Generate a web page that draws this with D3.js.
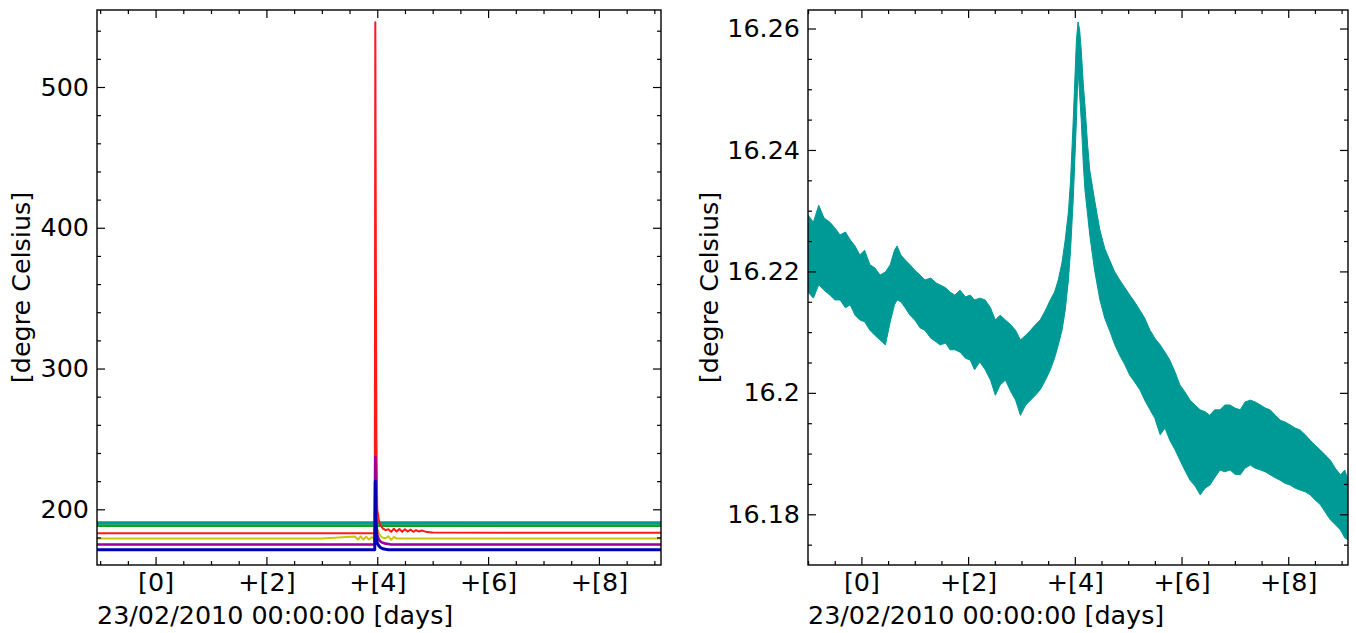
<!DOCTYPE html>
<html><head><meta charset="utf-8">
<script src="https://cdn.jsdelivr.net/npm/d3@7"></script>
<style>
html,body{margin:0;padding:0;background:#fff;}
svg{display:block;font-family:"DejaVu Sans",sans-serif;}
</style></head><body>
<svg id="chart" width="1356" height="633"></svg>
<script>
// ---------- tick labels / titles ----------
const xMajorTicks = [0, 2, 4, 6, 8];
const xTickLabels = ["[0]", "+[2]", "+[4]", "+[6]", "+[8]"];
const xMinorTicks = [-1, -0.5, 0.5, 1, 1.5, 2.5, 3, 3.5, 4.5, 5, 5.5, 6.5, 7, 7.5, 8.5, 9];
const xTitle = "23/02/2010 00:00:00 [days]";
const yTitle = "[degre Celsius]";

const leftYTicks = [200, 300, 400, 500];
const leftYTickLabels = ["200", "300", "400", "500"];
const leftYMinor = [180, 220, 240, 260, 280, 320, 340, 360, 380, 420, 440, 460, 480, 520, 540];
const leftXDomain = [-1.057, 9.12];
const leftYDomain = [160.43, 554.7];

const rightYTicks = [16.18, 16.20, 16.22, 16.24, 16.26];
const rightYTickLabels = ["16.18", "16.2", "16.22", "16.24", "16.26"];
const rightYMinor = [16.175, 16.185, 16.19, 16.195, 16.205, 16.21, 16.215, 16.225, 16.23, 16.235, 16.245, 16.25, 16.255];
const rightXDomain = [-1.001, 9.12];
const rightYDomain = [16.17165, 16.26305];

// ---------- left panel series (days, degree Celsius) ----------
const leftDays = [-1.06, 1, 3, 3.6, 3.65, 3.7, 3.75, 3.8, 3.85, 3.9,
  3.955, 3.965, 3.975, 3.985, 4.0, 4.03, 4.06, 4.1, 4.15, 4.2,
  4.25, 4.3, 4.35, 4.4, 4.45, 4.5, 4.55, 4.6, 4.65, 4.7,
  4.75, 4.8, 4.9, 5.0, 7.0, 9.12];
const seriesGreen = [188.4, 188.4, 188.4, 188.4, 188.4, 188.4, 188.4, 188.4, 188.4, 188.4,
  188.4, 188.4, 188.4, 188.4, 188.4, 188.4, 188.4, 188.4, 188.4, 188.4,
  188.4, 188.4, 188.4, 188.4, 188.4, 188.4, 188.4, 188.4, 188.4, 188.4,
  188.4, 188.4, 188.4, 188.4, 188.4, 188.4];
const seriesTeal = [190.4, 190.4, 190.4, 190.4, 190.4, 190.4, 190.4, 190.4, 190.4, 190.4,
  190.4, 190.4, 190.4, 190.4, 190.4, 190.4, 190.4, 190.4, 190.4, 190.4,
  190.4, 190.4, 190.4, 190.4, 190.4, 190.4, 190.4, 190.4, 190.4, 190.4,
  190.4, 190.4, 190.4, 190.4, 190.4, 190.4];
const seriesYellow = [179.2, 179.2, 179.2, 180.6, 178.4, 180.8, 178.5, 180.5, 178.6, 180.2,
  179.2, 215, 200, 192, 186, 183, 181, 179.8, 179.4, 180.8,
  178.3, 180.4, 179.2, 179.2, 179.2, 179.2, 179.2, 179.2, 179.2, 179.2,
  179.2, 179.2, 179.2, 179.2, 179.2, 179.2];
const seriesRed = [183.0, 183.0, 183.0, 183.0, 183.0, 183.0, 183.0, 183.0, 183.0, 183.0,
  183.0, 546, 380, 250, 200, 192, 188.5, 186.5, 185.2, 185.8,
  184.0, 186.2, 184.2, 186.0, 184.0, 185.8, 184.2, 185.6, 184.0, 185.2,
  184.2, 184.9, 183.8, 183.6, 183.3, 183.3];
const seriesPurple = [175.0, 175.0, 175.0, 175.0, 175.0, 175.0, 175.0, 175.0, 175.0, 175.0,
  175.0, 237, 205, 190, 182, 178.5, 177, 176.2, 175.6, 175.3,
  175.0, 175.0, 175.0, 175.0, 175.0, 175.0, 175.0, 175.0, 175.0, 175.0,
  175.0, 175.0, 175.0, 175.0, 175.0, 175.0];
const seriesBlue = [171.3, 171.3, 171.3, 171.3, 171.3, 171.3, 171.3, 171.3, 171.3, 171.3,
  171.3, 220, 192, 182, 176, 174, 172.8, 172.0, 171.6, 171.3,
  171.3, 171.3, 171.3, 171.3, 171.3, 171.3, 171.3, 171.3, 171.3, 171.3,
  171.3, 171.3, 171.3, 171.3, 171.3, 171.3];

// ---------- right panel: noisy band envelope (days, degree Celsius) ----------
const rightDays = [-1.00, -0.90, -0.80, -0.70, -0.59, -0.50, -0.40, -0.30, -0.21, -0.12,
  -0.03, 0.06, 0.16, 0.25, 0.35, 0.45, 0.54, 0.62, 0.67, 0.74,
  0.82, 0.91, 1.00, 1.10, 1.19, 1.30, 1.40, 1.47, 1.58, 1.66,
  1.75, 1.85, 1.95, 2.04, 2.12, 2.22, 2.32, 2.42, 2.51, 2.60,
  2.70, 2.80, 2.89, 2.98, 3.08, 3.17, 3.26, 3.35, 3.45, 3.54,
  3.62, 3.69, 3.76, 3.82, 3.88, 3.92, 3.97, 4.00, 4.03, 4.06,
  4.09, 4.12, 4.16, 4.19, 4.24, 4.28, 4.37, 4.47, 4.56, 4.65,
  4.75, 4.84, 4.94, 5.03, 5.12, 5.22, 5.31, 5.41, 5.50, 5.60,
  5.69, 5.78, 5.88, 5.97, 6.06, 6.16, 6.25, 6.35, 6.44, 6.53,
  6.62, 6.72, 6.81, 6.91, 7.00, 7.10, 7.19, 7.29, 7.38, 7.48,
  7.57, 7.66, 7.76, 7.85, 7.94, 8.04, 8.13, 8.22, 8.32, 8.41,
  8.50, 8.60, 8.69, 8.79, 8.88, 8.98, 9.06, 9.12];
const rightHigh = [16.2293, 16.2281, 16.2309, 16.2288, 16.2281, 16.2272, 16.2260, 16.2265, 16.2252, 16.2242,
  16.2227, 16.2235, 16.2211, 16.2206, 16.2194, 16.2199, 16.2211, 16.2235, 16.2242, 16.2227,
  16.2219, 16.2211, 16.2202, 16.2194, 16.2186, 16.2189, 16.2181, 16.2178, 16.2173, 16.2166,
  16.2161, 16.2169, 16.2158, 16.2161, 16.2153, 16.2156, 16.2153, 16.2140, 16.2120, 16.2128,
  16.2120, 16.2112, 16.2103, 16.2087, 16.2095, 16.2103, 16.2112, 16.2120, 16.2136, 16.2153,
  16.2166, 16.2186, 16.2215, 16.2252, 16.2298, 16.2350, 16.2449, 16.2515, 16.2581, 16.2611,
  16.2598, 16.2565, 16.2507, 16.2474, 16.2408, 16.2367, 16.2318, 16.2268, 16.2238, 16.2219,
  16.2199, 16.2186, 16.2173, 16.2161, 16.2150, 16.2136, 16.2123, 16.2103, 16.2090, 16.2079,
  16.2067, 16.2054, 16.2034, 16.2013, 16.2002, 16.1988, 16.1980, 16.1972, 16.1969, 16.1963,
  16.1972, 16.1972, 16.1980, 16.1980, 16.1975, 16.1972, 16.1985, 16.1988, 16.1985, 16.1980,
  16.1975, 16.1972, 16.1963, 16.1955, 16.1952, 16.1947, 16.1942, 16.1939, 16.1931, 16.1922,
  16.1914, 16.1906, 16.1898, 16.1889, 16.1876, 16.1865, 16.1873, 16.1856];
const rightLow = [16.2166, 16.2156, 16.2178, 16.2169, 16.2161, 16.2153, 16.2153, 16.2140, 16.2145, 16.2128,
  16.2120, 16.2117, 16.2103, 16.2095, 16.2087, 16.2079, 16.2117, 16.2145, 16.2153, 16.2150,
  16.2140, 16.2128, 16.2120, 16.2107, 16.2103, 16.2090, 16.2084, 16.2079, 16.2082, 16.2071,
  16.2071, 16.2067, 16.2057, 16.2054, 16.2038, 16.2051, 16.2038, 16.2021, 16.1996, 16.2013,
  16.2021, 16.2002, 16.1988, 16.1963, 16.1980, 16.1988, 16.1996, 16.2005, 16.2021, 16.2038,
  16.2057, 16.2079, 16.2103, 16.2136, 16.2186, 16.2235, 16.2318, 16.2383, 16.2449, 16.2532,
  16.2491, 16.2449, 16.2375, 16.2334, 16.2293, 16.2260, 16.2202, 16.2153, 16.2123, 16.2103,
  16.2079, 16.2062, 16.2046, 16.2029, 16.2018, 16.2005, 16.1988, 16.1972, 16.1958, 16.1931,
  16.1942, 16.1922, 16.1906, 16.1889, 16.1873, 16.1856, 16.1847, 16.1832, 16.1843, 16.1848,
  16.1860, 16.1873, 16.1870, 16.1873, 16.1866, 16.1865, 16.1876, 16.1881, 16.1876, 16.1873,
  16.1870, 16.1865, 16.1860, 16.1856, 16.1851, 16.1848, 16.1843, 16.1840, 16.1837, 16.1832,
  16.1824, 16.1816, 16.1804, 16.1791, 16.1783, 16.1774, 16.1761, 16.1758];

// ---------- styling / layout ----------
const FONT = 25.4;
const leftSeries = [
  {values: seriesGreen,  color: "#12a21a", width: 2.8},
  {values: seriesTeal,   color: "#009994", width: 3.2},
  {values: seriesYellow, color: "#c8c800", width: 2},
  {values: seriesRed,    color: "#ff1a1a", width: 2},
  {values: seriesPurple, color: "#990099", width: 2.6},
  {values: seriesBlue,   color: "#0000b0", width: 3}
];
const rightColor = "#009a96";

const svg = d3.select("#chart");

function panel(box, xDomain, yDomain, yTicks, yLabels, yMinor, yLabelX, id) {
  const w = box.x1 - box.x0, h = box.y1 - box.y0;
  const g = svg.append("g").attr("transform", `translate(${box.x0},${box.y0})`);
  const x = d3.scaleLinear().domain(xDomain).range([0, w]);
  const y = d3.scaleLinear().domain(yDomain).range([h, 0]);
  g.append("clipPath").attr("id", id).append("rect").attr("width", w).attr("height", h);
  const data = g.append("g").attr("clip-path", `url(#${id})`);

  const style = sel => {
    sel.select(".domain").remove();
    sel.selectAll(".tick line").attr("stroke", "#000").attr("stroke-width", 1.2);
    sel.selectAll(".tick text").attr("fill", "#000").style("font-size", FONT + "px")
      .style("font-family", '"DejaVu Sans", sans-serif');
  };
  const axes = g.append("g");
  axes.append("g").attr("transform", `translate(0,${h})`)
    .call(d3.axisBottom(x).tickValues(xMajorTicks).tickFormat((d, i) => xTickLabels[i]).tickSize(-8).tickPadding(8)).call(style);
  axes.append("g").attr("transform", `translate(0,${h})`)
    .call(d3.axisBottom(x).tickValues(xMinorTicks).tickFormat("").tickSize(-4)).call(style);
  axes.append("g").call(d3.axisTop(x).tickValues(xMajorTicks).tickFormat("").tickSize(-8)).call(style);
  axes.append("g").call(d3.axisTop(x).tickValues(xMinorTicks).tickFormat("").tickSize(-4)).call(style);
  axes.append("g").call(d3.axisLeft(y).tickValues(yTicks).tickFormat((d, i) => yLabels[i]).tickSize(-8).tickPadding(8)).call(style);
  axes.append("g").call(d3.axisLeft(y).tickValues(yMinor).tickFormat("").tickSize(-4)).call(style);
  axes.append("g").attr("transform", `translate(${w},0)`)
    .call(d3.axisRight(y).tickValues(yTicks).tickFormat("").tickSize(-8)).call(style);
  axes.append("g").attr("transform", `translate(${w},0)`)
    .call(d3.axisRight(y).tickValues(yMinor).tickFormat("").tickSize(-4)).call(style);

  g.append("rect").attr("width", w).attr("height", h)
    .attr("fill", "none").attr("stroke", "#000").attr("stroke-width", 1.4);

  g.append("text").attr("x", 0).attr("y", 624 - box.y0)
    .style("font-size", FONT + "px").attr("fill", "#000").text(xTitle);
  g.append("text").attr("transform", `translate(${yLabelX - box.x0},${h / 2}) rotate(-90)`)
    .attr("text-anchor", "middle").style("font-size", FONT + "px").attr("fill", "#000").text(yTitle);
  return {x, y, data};
}

// Left panel
const L = panel({x0: 97, x1: 661, y0: 10, y1: 565}, leftXDomain, leftYDomain,
  leftYTicks, leftYTickLabels, leftYMinor, 29.5, "clipL");
leftSeries.forEach(s => {
  const line = d3.line().x((d, i) => L.x(leftDays[i])).y(d => L.y(d));
  L.data.append("path").datum(s.values).attr("d", line)
    .attr("fill", "none").attr("stroke", s.color).attr("stroke-width", s.width)
    .attr("stroke-linejoin", "round");
});

// Right panel
const R = panel({x0: 808, x1: 1348, y0: 10, y1: 565}, rightXDomain, rightYDomain,
  rightYTicks, rightYTickLabels, rightYMinor, 717.5, "clipR");
const area = d3.area()
  .x((d, i) => R.x(rightDays[i]))
  .y0((d, i) => R.y(rightLow[i]))
  .y1((d, i) => R.y(rightHigh[i]));
R.data.append("path").datum(rightDays).attr("d", area)
  .attr("fill", rightColor).attr("stroke", rightColor).attr("stroke-width", 1);
</script>
</body></html>
